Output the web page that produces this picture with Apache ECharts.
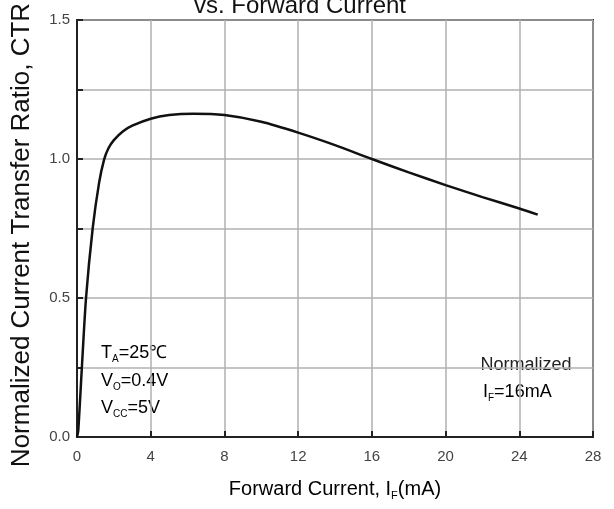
<!DOCTYPE html>
<html><head><meta charset="utf-8">
<script src="https://cdn.jsdelivr.net/npm/echarts@6/dist/echarts.min.js"></script>
<style>html,body{margin:0;padding:0;background:#fff}#c{width:614px;height:509px}</style>
</head><body><div id="c"></div>
<script>
const currentMA = [0, 0.07, 0.26, 0.49, 0.85, 1.2, 1.47, 1.7, 2.0, 2.5, 3.0, 4.0, 5.0, 6.3, 8.0, 10.0, 12.0, 14.0, 16.0, 18.0, 20.0, 22.0, 24.0, 25.0];
const ctrNorm = [0, 0.025, 0.245, 0.5, 0.75, 0.915, 0.998, 1.038, 1.068, 1.1, 1.12, 1.145, 1.158, 1.163, 1.158, 1.134, 1.095, 1.05, 1.0, 0.952, 0.906, 0.863, 0.822, 0.80];
const xTicks = [0, 4, 8, 12, 16, 20, 24, 28];
const yTickLabels = ['0.0', '0.5', '1.0', '1.5'];

const FONT = '"Liberation Sans", Arial, sans-serif';
const chart = echarts.init(document.getElementById('c'), null, {renderer: 'canvas'});
const pts = currentMA.map((x, i) => [x, ctrNorm[i]]);
const sub = {a: {fontSize: 18, fontFamily: FONT, color: '#222'}, s: {fontSize: 10, fontFamily: FONT, color: '#222', padding: [13, 0, 0, 0]}};
chart.setOption({
  animation: false,
  backgroundColor: '#fff',
  grid: {left: 77, right: 21, top: 20, bottom: 72, show: true, borderColor: '#222', borderWidth: 2},
  xAxis: {
    type: 'value', min: 0, max: 28, interval: 4,
    axisLine: {show: true, onZero: false, lineStyle: {color: '#222', width: 2}},
    axisTick: {show: true, inside: true, length: 6, lineStyle: {color: '#222', width: 2}},
    splitLine: {show: true, lineStyle: {color: '#b0b0b0', width: 1.5}},
    axisLabel: {fontSize: 15, fontFamily: FONT, color: '#444', margin: 12,
      formatter: v => xTicks.includes(v) ? String(v) : ''}
  },
  yAxis: {
    type: 'value', min: 0, max: 1.5, interval: 0.25,
    axisLine: {show: true, lineStyle: {color: '#222', width: 2}},
    axisTick: {show: true, inside: true, length: 6, lineStyle: {color: '#222', width: 2}},
    splitLine: {show: true, lineStyle: {color: '#b0b0b0', width: 1.5}},
    axisLabel: {fontSize: 15, fontFamily: FONT, color: '#444', margin: 7,
      formatter: v => {
        const k = Math.round(v * 2);
        return Math.abs(v * 2 - k) < 1e-6 ? yTickLabels[k] : '';
      }}
  },
  graphic: [
    {type: 'text', style: {text: 'vs. Forward Current', x: 300, y: -6, align: 'center', verticalAlign: 'top', fontSize: 24, fontFamily: FONT, fill: '#111'}},
    {type: 'text', style: {text: 'Normalized Current Transfer Ratio, CTR', x: 0, y: 0, align: 'center', verticalAlign: 'middle', fontSize: 26, fontFamily: FONT, fill: '#111'}, x: 22, y: 235, rotation: Math.PI / 2},
    {type: 'text', style: {text: '{a|Forward Current, I}{s|F}{a|(mA)}', x: 335, y: 489, align: 'center', verticalAlign: 'middle',
      rich: {a: {fontSize: 20, fontFamily: FONT, color: '#111'}, s: {fontSize: 11, fontFamily: FONT, color: '#111', padding: [13, 0, 0, 0]}}}},
    {type: 'text', style: {text: '{a|T}{s|A}{a|=25℃}', x: 101, y: 353, align: 'left', verticalAlign: 'middle', rich: sub}},
    {type: 'text', style: {text: '{a|V}{s|O}{a|=0.4V}', x: 101, y: 381, align: 'left', verticalAlign: 'middle', rich: sub}},
    {type: 'text', style: {text: '{a|V}{s|CC}{a|=5V}', x: 101, y: 408, align: 'left', verticalAlign: 'middle', rich: sub}},
    {type: 'text', style: {text: 'Normalized', x: 526, y: 365, align: 'center', verticalAlign: 'middle', fontSize: 18, fontFamily: FONT, fill: '#222', backgroundColor: '#fff'}},
    {type: 'text', style: {text: '{a|I}{s|F}{a|=16mA}', x: 483, y: 392, align: 'left', verticalAlign: 'middle', rich: sub}}
  ],
  series: [{
    type: 'line', data: pts, smooth: 0.25, showSymbol: false,
    lineStyle: {color: '#111', width: 2.5}, z: 5
  }]
});
</script></body></html>
